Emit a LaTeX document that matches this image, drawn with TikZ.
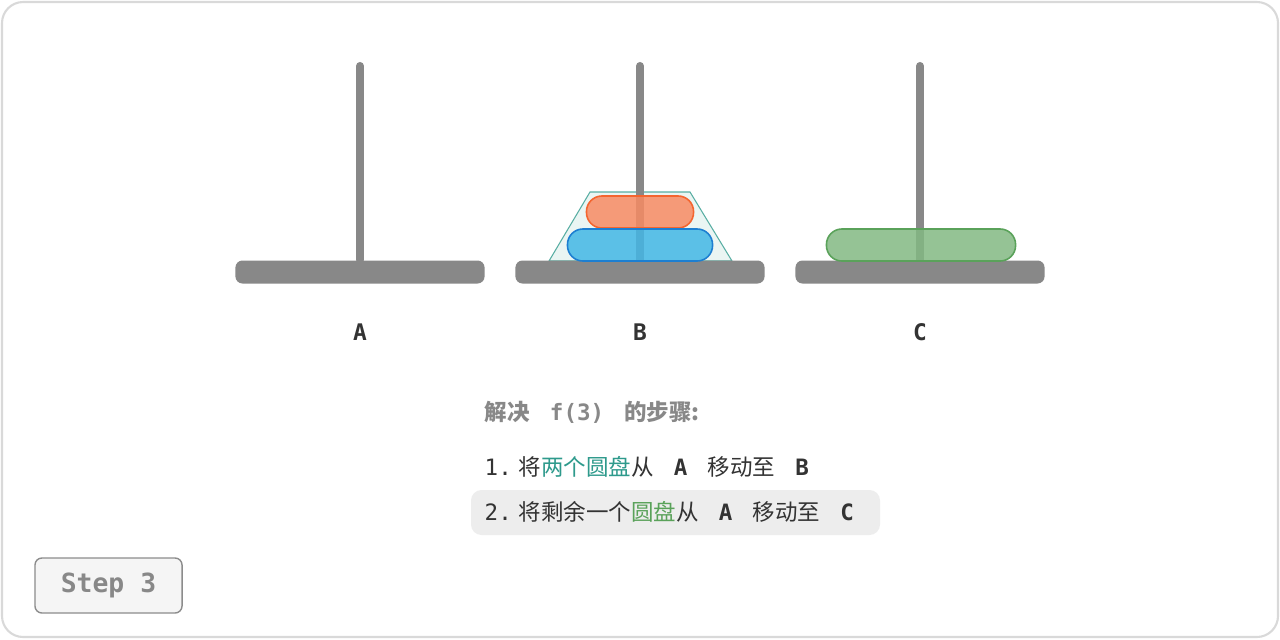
\documentclass[tikz,border=0pt]{standalone}
\usepackage{fontspec}
\setmonofont{DejaVu Sans Mono}
\newfontfamily\cjk{Noto Sans CJK SC}
\usetikzlibrary{positioning}
\definecolor{polegray}{HTML}{888888}
\definecolor{diskorange}{HTML}{F4652F}
\definecolor{diskblue}{HTML}{1D7FD1}
\definecolor{diskgreen}{HTML}{5AA25A}
\definecolor{hlteal}{HTML}{2E9A8C}
\definecolor{txtdark}{HTML}{333333}
\newcommand{\gap}{\hspace{0.9em}}
\tikzset{
  pole/.style={line width=2.3pt, polegray},
  base/.style={fill=polegray, rounded corners=2pt, minimum width=2.49cm, minimum height=0.23cm, inner sep=0pt},
  disk/.style={rounded corners=4.4pt, minimum height=0.32cm, inner sep=0pt, line width=0.45pt, fill opacity=0.85},
  peglabel/.style={font=\ttfamily\bfseries\fontsize{6.5}{7}\selectfont, text=txtdark},
  stepline/.style={anchor=west, font=\cjk\fontsize{6.4}{7}\selectfont, text=txtdark, inner sep=0pt}
}
\begin{document}
\begin{tikzpicture}[x=0.01cm, y=-0.01cm]
            \useasboundingbox (0,0) rectangle (1280,639);
            \draw[rounded corners=6pt, black!15, line width=0.6pt, fill=white] (2,2) rectangle (1278,637);
            % trapezoid around the two moved disks
            \draw[hlteal!80, fill=hlteal!10, line width=0.3pt] (549,261) -- (590,192) -- (690,192) -- (732,261) -- cycle;
            % poles and bases
            \foreach \name/\x in {A/360, B/640, C/920} {
              \coordinate (top\name) at (\x,66);
              \node[base] (base\name) at (\x,272) {};
              \draw[pole, line cap=round] (top\name) -- (base\name.north);
              \node[peglabel] (label\name) at (\x,332) {\name};
            }
            % disks
            \node[disk, draw=diskorange, fill=diskorange!75!white, minimum width=1.07cm] (diskS) at (640,212) {};
            \node[disk, draw=diskblue, fill=diskblue!70!cyan!80!white, minimum width=1.45cm] (diskM) at (640,245) {};
            \node[disk, draw=diskgreen, fill=diskgreen!75!white, minimum width=1.89cm] (diskL) at (921,245) {};
            % steps
            \node[stepline, text=polegray] (title) at (484,412) {\bfseries 解决\gap\texttt{f(3)}\gap 的步骤:};
            \fill[black!7, rounded corners=3pt] (471,490) rectangle (880,535);
            \node[stepline] (stepone) at (484,467) {\texttt{1.} 将\textcolor{hlteal}{两个圆盘}从\gap\texttt{\bfseries A}\gap 移动至\gap\texttt{\bfseries B}};
            \node[stepline] (steptwo) at (484,512) {\texttt{2.} 将剩余一个\textcolor{diskgreen}{圆盘}从\gap\texttt{\bfseries A}\gap 移动至\gap\texttt{\bfseries C}};
            \node[draw=black!45, fill=black!4, rounded corners=2pt, line width=0.4pt, minimum width=1.47cm, minimum height=0.55cm, font=\ttfamily\bfseries\fontsize{7.5}{8}\selectfont, text=polegray] (stepbox) at (108.5,585.5) {Step 3};
\end{tikzpicture}
\end{document}
